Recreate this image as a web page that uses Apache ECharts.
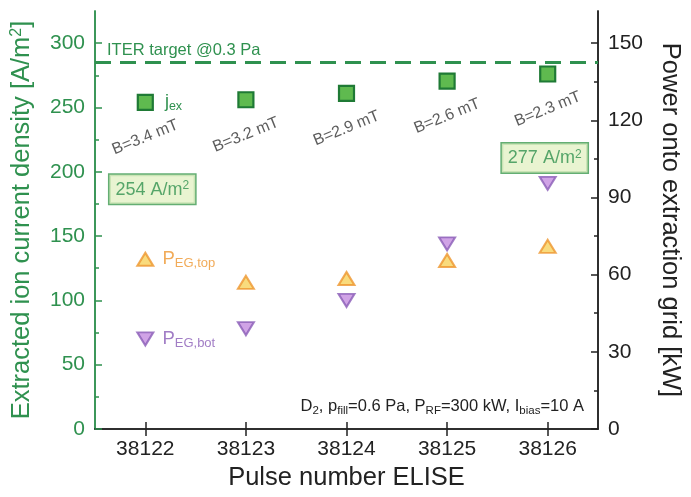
<!DOCTYPE html>
<html><head><meta charset="utf-8">
<script src="https://cdn.jsdelivr.net/npm/echarts@6/dist/echarts.min.js"></script>
<style>html,body{margin:0;padding:0;background:#fff}#c{width:691px;height:497px}</style>
</head><body><div id="c"></div>
<script>
const pulses = ['38122','38123','38124','38125','38126'];
const jex = [254, 256, 261, 270.5, 276];
const pTop = [66, 57, 58.5, 65.5, 71];
const pBot = [35, 39, 50, 72, 95.5];
const bField = ['B=3.4 mT','B=3.2 mT','B=2.9 mT','B=2.6 mT','B=2.3 mT'];
const boxText = ['254', '', '', '', '277'];
const iterTarget = 285;
const leftTicks = [0,50,100,150,200,250,300];
const leftMinor = [25,75,125,175,225,275];
const rightTicks = [0,30,60,90,120,150];
const rightMinor = [15,45,75,105,135];

const F = "'Liberation Sans', Arial, sans-serif";
const GREEN = '#2f914f';
const GREENDARK = '#1f7a35';
const ORANGE = '#ee962f';
const PURPLE = '#8a5cb6';
const TH = 22 * Math.PI / 180;
const BD = 35;

const chart = echarts.init(document.getElementById('c'));

function yAx(pos, min, max, ticks, color, major, extra) {
  return Object.assign({
    type: 'value', position: pos, min: min, max: max,
    axisLine: { show: true, lineStyle: { color: color, width: 1.5 } },
    axisTick: { show: true, inside: true, length: major ? 7 : 4, customValues: ticks, lineStyle: { color: color, width: 1.5 } },
    axisLabel: major ? { show: true, customValues: ticks, fontFamily: F, fontSize: 21, color: color, margin: 10 } : { show: false },
    splitLine: { show: false }
  }, extra || {});
}

const option = {
  animation: false,
  backgroundColor: '#fff',
  grid: { left: 95, right: 75, top: 11, bottom: 68, containLabel: false },
  title: {
    text: 'D{s|2}, p{s|fill}=0.6 Pa, P{s|RF}=300 kW, I{s|bias}=10 A',
    right: 102, top: 390,
    textStyle: {
      fontFamily: F, fontSize: 16.5, fontWeight: 'normal', color: '#222', lineHeight: 22,
      rich: { s: { fontFamily: F, fontSize: 11.5, color: '#222', verticalAlign: 'bottom', lineHeight: 14 } }
    }
  },
  xAxis: [
    {
      type: 'category', data: pulses, position: 'bottom', boundaryGap: true,
      name: 'Pulse number ELISE', nameLocation: 'middle', nameGap: 36,
      nameTextStyle: { fontFamily: F, fontSize: 25.5, color: '#222' },
      axisLine: { show: true, lineStyle: { color: '#222', width: 1.5 } },
      axisTick: { show: true, inside: true, alignWithLabel: true, length: 7, lineStyle: { color: '#222', width: 1.5 } },
      axisLabel: { fontFamily: F, fontSize: 21, color: '#222', margin: 10 },
      splitLine: { show: false }
    },
    {
      type: 'category', data: pulses, position: 'top', boundaryGap: true,
      axisLine: { show: true, lineStyle: { color: '#222', width: 1.5 } },
      axisTick: { show: true, inside: true, alignWithLabel: true, length: 7, lineStyle: { color: '#222', width: 1.5 } },
      axisLabel: { show: false },
      splitLine: { show: false }
    }
  ],
  yAxis: [
    yAx('left', 0, 325, leftTicks, GREEN, true, {
      name: 'Extracted ion current density [A/m{p|2}]', nameLocation: 'middle', nameGap: 60,
      nameTextStyle: { fontFamily: F, fontSize: 25.5, color: GREEN,
        rich: { p: { fontFamily: F, fontSize: 16, color: GREEN, verticalAlign: 'top', lineHeight: 12 } } }
    }),
    yAx('left', 0, 325, leftMinor, GREEN, false),
    yAx('right', 0, 162.5, rightTicks, '#222', true, {
      name: 'Power onto extraction grid [kW]', nameLocation: 'middle', nameGap: 59, nameRotate: -90,
      nameTextStyle: { fontFamily: F, fontSize: 25.5, color: '#222' }
    }),
    yAx('right', 0, 162.5, rightMinor, '#222', false)
  ],
  series: [
    {
      name: 'jex', type: 'scatter', xAxisIndex: 0, yAxisIndex: 0,
      symbol: 'rect', symbolSize: 15, z: 5,
      itemStyle: { color: '#5fba4f', borderColor: GREENDARK, borderWidth: 2.2, opacity: 1 },
      data: jex.map((v, i) => i === 0 ? {
        value: v,
        label: { show: true, position: 'right', distance: 11, formatter: 'j{s|ex}',
          fontFamily: F, fontSize: 18, color: GREEN, lineHeight: 22,
          rich: { s: { fontFamily: F, fontSize: 12.5, color: GREEN, verticalAlign: 'bottom', lineHeight: 14 } } }
      } : v),
      markLine: {
        silent: true, symbol: 'none',
        lineStyle: { color: GREEN, width: 3, type: [16, 9] },
        label: { show: true, position: 'insideStartTop', formatter: 'ITER target @0.3 Pa',
          fontFamily: F, fontSize: 16.5, color: GREEN, distance: [12, 3] },
        data: [{ yAxis: iterTarget }]
      }
    },
    {
      name: 'B', type: 'scatter', xAxisIndex: 0, yAxisIndex: 0, silent: true,
      symbol: 'circle', symbolSize: 1, itemStyle: { color: 'rgba(0,0,0,0)' },
      data: jex.map((v, i) => ({ value: v, bname: bField[i] })),
      label: {
        show: true, position: 'inside', rotate: 22,
        offset: [-BD * Math.sin(TH), BD * Math.cos(TH)],
        formatter: p => bField[p.dataIndex],
        fontFamily: F, fontSize: 16, color: '#333', align: 'center', verticalAlign: 'middle'
      }
    },
    {
      name: 'box', type: 'scatter', xAxisIndex: 0, yAxisIndex: 0, silent: true, z: 6,
      symbol: 'circle', symbolSize: 1, itemStyle: { color: 'rgba(0,0,0,0)' },
      data: jex.map((v, i) => boxText[i] ? {
        value: v,
        label: { show: true, position: 'inside', offset: i === 0 ? [7, 87] : [-3, 84],
          formatter: boxText[i] + ' A/m{p|2}',
          fontFamily: F, fontSize: 18, color: GREEN, lineHeight: 20,
          backgroundColor: '#e4f1c6', borderColor: '#3d9a50', borderWidth: 1.5,
          padding: [5, 6, 4, 6],
          rich: { p: { fontFamily: F, fontSize: 12, color: GREEN, verticalAlign: 'top', lineHeight: 10 } } }
      } : { value: v, label: { show: false } })
    },
    {
      name: 'ptop', type: 'scatter', xAxisIndex: 0, yAxisIndex: 2,
      symbol: 'triangle', symbolSize: [16, 13], z: 4,
      itemStyle: { color: '#f8d25c', borderColor: ORANGE, borderWidth: 2 },
      data: pTop.map((v, i) => i === 0 ? {
        value: v,
        label: { show: true, position: 'right', distance: 8, formatter: 'P{s|EG,top}',
          fontFamily: F, fontSize: 18.5, color: ORANGE, lineHeight: 22,
          rich: { s: { fontFamily: F, fontSize: 13, color: ORANGE, verticalAlign: 'bottom', lineHeight: 14 } } }
      } : v)
    },
    {
      name: 'pbot', type: 'scatter', xAxisIndex: 0, yAxisIndex: 2,
      symbol: 'triangle', symbolRotate: 180, symbolSize: [16, 13], z: 4,
      itemStyle: { color: '#c48ce0', borderColor: PURPLE, borderWidth: 2 },
      data: pBot.map((v, i) => i === 0 ? {
        value: v,
        label: { show: true, position: 'right', distance: 8, formatter: 'P{s|EG,bot}',
          fontFamily: F, fontSize: 18.5, color: PURPLE, lineHeight: 22,
          rich: { s: { fontFamily: F, fontSize: 13, color: PURPLE, verticalAlign: 'bottom', lineHeight: 14 } } }
      } : v)
    }
  ]
};
chart.setOption(option);
</script>
</body></html>
